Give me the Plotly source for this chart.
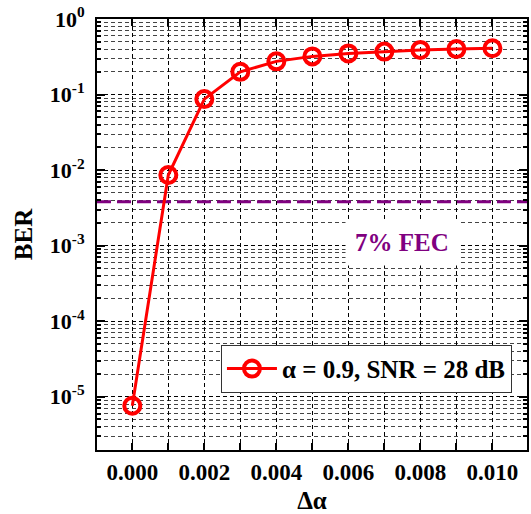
import math
import plotly.graph_objects as go

# ---- data ----
delta_alpha = [0.000, 0.001, 0.002, 0.003, 0.004, 0.005, 0.006, 0.007, 0.008, 0.009, 0.010]
ber = [7.6e-6, 8.6e-3, 0.087, 0.20, 0.275, 0.32, 0.35, 0.37, 0.39, 0.40, 0.41]
series_name = "α = 0.9, SNR = 28 dB"

fec_threshold = 3.8e-3
fec_label = "7% FEC"

x_range = [-0.00098, 0.01096]
x_tick_vals = [0.000, 0.001, 0.002, 0.003, 0.004, 0.005, 0.006, 0.007, 0.008, 0.009, 0.010]
x_tick_text = ["0.000", "", "0.002", "", "0.004", "", "0.006", "", "0.008", "", "0.010"]
y_tick_vals = [1e-5, 1e-4, 1e-3, 1e-2, 1e-1, 1e0]
y_tick_text = ["10<sup>-5</sup>", "10<sup>-4</sup>", "10<sup>-3</sup>",
               "10<sup>-2</sup>", "10<sup>-1</sup>", "10<sup>0</sup>"]
y_minor_vals = [m * 10.0 ** e for e in range(-6, 0) for m in range(2, 10)]

FONT = "Liberation Serif"
RED = "#ff0000"
PURPLE = "#800080"

fig = go.Figure()

# FEC threshold line across the full x range
fig.add_trace(go.Scatter(
    x=x_range, y=[fec_threshold, fec_threshold], mode="lines", showlegend=False,
    hoverinfo="skip", line=dict(color=PURPLE, width=3, dash="14px,6px"),
))

fig.add_trace(go.Scatter(
    x=delta_alpha, y=ber, mode="lines+markers", name=series_name,
    line=dict(color=RED, width=3),
    marker=dict(symbol="circle-open", size=16, color=RED, line=dict(width=4, color=RED)),
))

fig.add_annotation(x=0.0075, y=-2.96, xref="x", yref="y", text="<b>" + fec_label + "</b>",
                   showarrow=False, bgcolor="white", borderpad=9,
                   font=dict(family=FONT, size=25, color=PURPLE))

grid_dash = "4px,3px"
fig.update_xaxes(
    range=x_range, tickmode="array", tickvals=x_tick_vals, ticktext=x_tick_text,
    ticks="inside", ticklen=7, tickwidth=1.5, tickcolor="black",
    showline=True, linecolor="black", linewidth=2, mirror="ticks",
    showgrid=True, gridcolor="black", gridwidth=1, griddash=grid_dash,
    zeroline=False,
    tickfont=dict(family=FONT, size=23, color="black", weight="bold"),
    title=dict(text="Δα", font=dict(family=FONT, size=25, color="black", weight="bold"), standoff=10),
)
fig.update_yaxes(
    type="log", range=[-5.705, 0], tickmode="array", tickvals=y_tick_vals, ticktext=y_tick_text,
    ticks="inside", ticklen=8, tickwidth=1.5, tickcolor="black",
    showline=True, linecolor="black", linewidth=2, mirror="ticks",
    showgrid=True, gridcolor="black", gridwidth=1, griddash=grid_dash,
    zeroline=False, ticklabelstandoff=6,
    minor=dict(tickmode="array", tickvals=y_minor_vals, ticks="inside", ticklen=4,
               tickwidth=1.5, tickcolor="black", showgrid=True, gridcolor="#444",
               gridwidth=1, griddash=grid_dash),
    tickfont=dict(family=FONT, size=22, color="black", weight="bold"),
    title=dict(text="BER", font=dict(family=FONT, size=25, color="black", weight="bold"), standoff=10),
)

fig.update_layout(
    width=531, height=514,
    margin=dict(l=97, r=2, t=19, b=61),
    plot_bgcolor="white", paper_bgcolor="white",
    showlegend=True,
    legend=dict(x=0.965, y=0.244, xanchor="right", yanchor="top",
                bgcolor="white", bordercolor="#333", borderwidth=1,
                font=dict(family=FONT, size=25, color="black", weight="bold"),
                itemwidth=50),
)

fig.write_html("out.html", config={"displayModeBar": False},
               post_script="document.body.style.margin='0';")
